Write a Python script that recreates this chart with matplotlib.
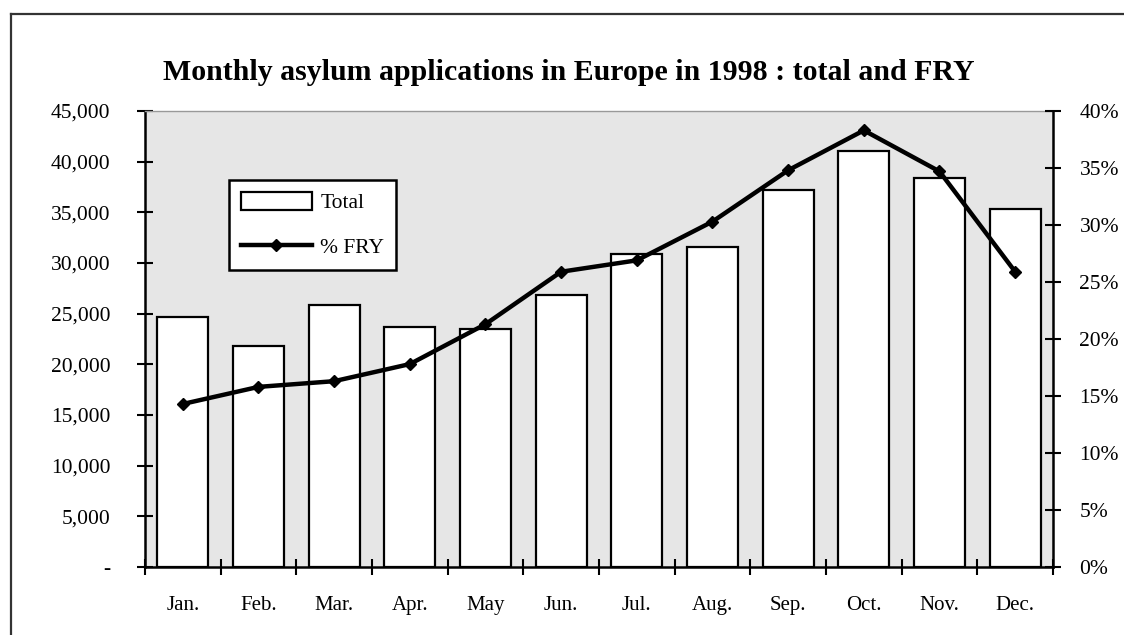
import numpy as np
import matplotlib
matplotlib.use("Agg")
import matplotlib.pyplot as plt
from matplotlib.lines import Line2D

# dane
months = ["Jan.", "Feb.", "Mar.", "Apr.", "May", "Jun.",
          "Jul.", "Aug.", "Sep.", "Oct.", "Nov.", "Dec."]
total = [24700, 21800, 25850, 23650, 23450, 26800,
         30850, 31600, 37200, 41100, 38400, 35300]
fry_pct = [14.3, 15.8, 16.3, 17.8, 21.3, 25.9,
           26.9, 30.3, 34.8, 38.3, 34.7, 25.9]

left_ticks = [0, 5000, 10000, 15000, 20000, 25000, 30000, 35000, 40000, 45000]
left_labels = ["-", "5,000", "10,000", "15,000", "20,000", "25,000",
               "30,000", "35,000", "40,000", "45,000"]
right_ticks = [0, 5, 10, 15, 20, 25, 30, 35, 40]
right_labels = ["0%", "5%", "10%", "15%", "20%", "25%", "30%", "35%", "40%"]

serif = ["Liberation Serif", "DejaVu Serif"]
plt.rcParams['font.family'] = serif

fig = plt.figure(figsize=(11.24, 6.35), dpi=100)
ax = fig.add_axes([145 / 1124, 1 - 567 / 635, 908 / 1124, 456 / 635])
ax2 = ax.twinx()

x = np.arange(len(months))

# słupki - suma
bars = ax.bar(x, total, width=0.67, color="white", edgecolor="black",
              linewidth=1.6, label="Total", zorder=2)
ax.set_facecolor("#e6e6e6")
ax.set_xlim(-0.5, len(months) - 0.5)
ax.set_ylim(0, 45000)
ax.set_yticks(left_ticks)
ax.set_yticklabels(left_labels, fontsize=15.5)

# kreski na osi x pomiędzy kategoriami
ax.set_xticks(np.arange(len(months) + 1) - 0.5)
ax.set_xticklabels([])
ax.set_xticks(x, minor=True)
ax.set_xticklabels(months, minor=True, fontsize=15)
ax.tick_params(axis="x", which="major", direction="inout", length=12, width=1.5)
ax.tick_params(axis="x", which="minor", length=0, pad=21)
ax.tick_params(axis="y", direction="inout", length=12, width=1.5, pad=19)

ax.spines["top"].set_color("#999999")
ax.spines["top"].set_linewidth(1)
ax.spines["left"].set_linewidth(1.8)
ax.spines["bottom"].set_linewidth(1.8)
ax.spines["right"].set_visible(False)

# linia - % FRY
line, = ax2.plot(x, fry_pct, color="black", linewidth=3.2, marker="D",
                 markersize=6.5, label="% FRY", zorder=3)
ax2.set_ylim(0, 40)
ax2.set_yticks(right_ticks)
ax2.set_yticklabels(right_labels, fontsize=15.5)
ax2.tick_params(axis="y", direction="inout", length=12, width=1.5, pad=13)
ax2.spines["right"].set_linewidth(1.8)
ax2.spines["top"].set_visible(False)
ax2.spines["left"].set_visible(False)
ax2.spines["bottom"].set_visible(False)

leg = ax2.legend([bars, line], ["Total", "% FRY"], loc="upper left",
                 bbox_to_anchor=((229 - 145) / 908, (567 - 180) / 456),
                 borderaxespad=0, fancybox=False, framealpha=1,
                 edgecolor="black", fontsize=15.5, handlelength=3.3,
                 handleheight=0.9, labelspacing=1.1, borderpad=0.55,
                 handletextpad=0.4)
leg.get_frame().set_linewidth(1.8)

fig.text(0.5065, 1 - 72 / 635, "Monthly asylum applications in Europe in 1998 : total and FRY",
         ha="center", va="center", fontsize=21.5, fontweight="bold")

# ramka wykresu (ucięta z prawej i z dołu)
fig.add_artist(Line2D([11 / 1124, 11 / 1124], [0, 1 - 14 / 635],
                      color="#333333", linewidth=1.6, transform=fig.transFigure))
fig.add_artist(Line2D([11 / 1124, 1], [1 - 14 / 635, 1 - 14 / 635],
                      color="#333333", linewidth=1.6, transform=fig.transFigure))

fig.savefig("out.png", dpi=100)
